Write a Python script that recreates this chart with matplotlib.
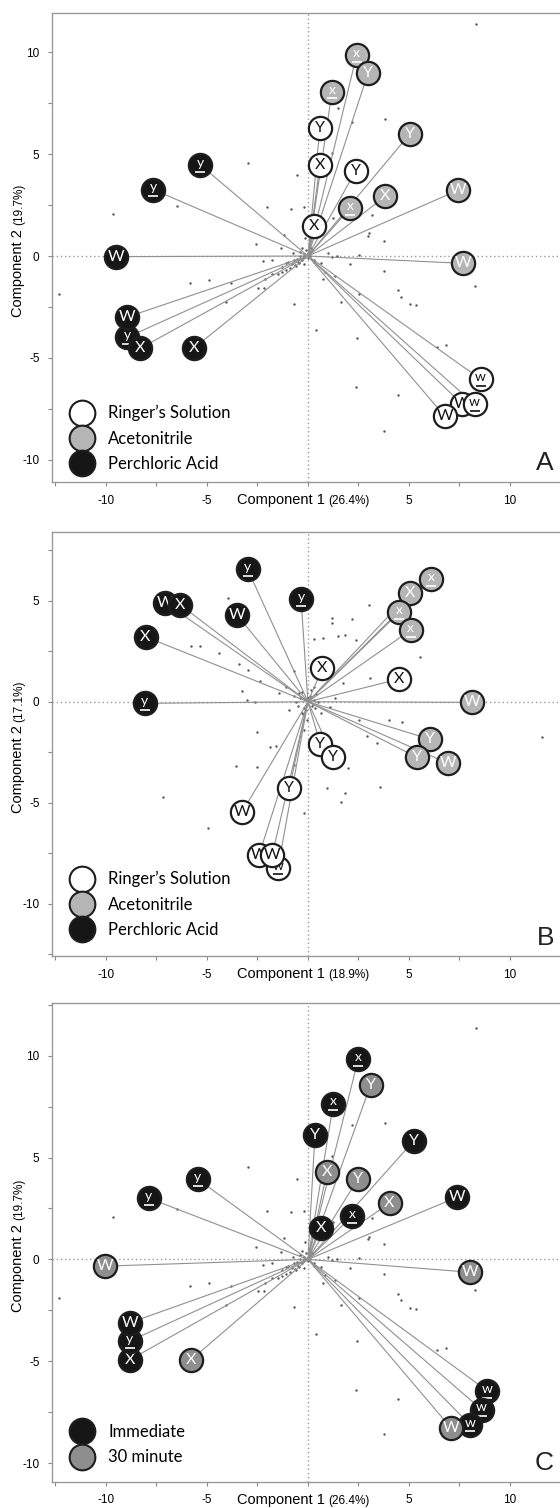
import numpy as np
import matplotlib.pyplot as plt
from matplotlib.lines import Line2D
from matplotlib.ticker import MultipleLocator, FuncFormatter
from matplotlib.transforms import offset_copy

plt.rcParams['axes.unicode_minus'] = False

# ---- panel A : sample scores, group R = Ringer's, A = acetonitrile, P = perchloric
a_x = [2.41, 2.98, 1.19, 5.03, 3.84, 2.09, 7.42, 7.68,
       0.59, 0.59, 2.36, 0.30, 8.55, 7.64, 8.25, 6.77,
       -5.32, -7.66, -9.49, -8.94, -8.94, -8.29, -5.65]
a_y = [9.84, 8.98, 8.06, 5.97, 2.93, 2.35, 3.22, -0.36,
       6.28, 4.46, 4.16, 1.48, -6.04, -7.27, -7.27, -7.85,
       4.46, 3.26, -0.03, -3.98, -2.99, -4.52, -4.52]
a_lab = ['x_', 'Y', 'x_', 'Y', 'X', 'x_', 'W', 'W',
         'Y', 'X', 'Y', 'X', 'w_', 'W', 'w_', 'W',
         'y_', 'y_', 'W', 'y_', 'W', 'X', 'X']
a_grp = ['A'] * 8 + ['R'] * 8 + ['P'] * 7

# ---- panel B
b_x = [-2.99, -0.34, -7.07, -6.31, -3.53, -8.04, -8.07,
       6.10, 5.05, 4.52, 5.09, 8.13, 6.02, 5.41, 6.94,
       0.72, 4.51, 0.62, 1.24, -0.92, -3.27, -2.42, -1.48, -1.77]
b_y = [6.57, 5.07, 4.90, 4.79, 4.32, 3.22, -0.08,
       6.07, 5.36, 4.42, 3.55, -0.03, -1.85, -2.76, -3.05,
       1.65, 1.12, -2.11, -2.72, -4.29, -5.48, -7.59, -8.22, -7.59]
b_lab = ['y_', 'y_', 'W', 'X', 'W', 'X', 'y_',
         'x_', 'X', 'x_', 'x_', 'W', 'Y', 'Y', 'W',
         'X', 'X', 'Y', 'Y', 'Y', 'W', 'W', 'w_', 'W']
b_grp = ['P'] * 7 + ['A'] * 8 + ['R'] * 9

# ---- panel C : I = immediate, M = 30 minute
c_x = [3.11, 0.95, 2.49, 4.04, -10.05, 8.02, -5.79,
       2.49, 1.26, 0.35, 5.25, 7.40, 2.18, 0.65, -5.46, -7.89,
       -8.82, -8.82, -8.82, 8.89, 8.60, 8.02, 7.09]
c_y = [8.58, 4.30, 3.97, 2.76, -0.33, -0.63, -4.93,
       9.82, 7.65, 6.13, 5.83, 3.06, 2.12, 1.52, 3.94, 3.01,
       -4.93, -4.01, -3.11, -6.46, -7.37, -8.11, -8.28]
c_lab = ['Y', 'X', 'Y', 'X', 'W', 'W', 'X',
         'x_', 'x_', 'Y', 'Y', 'W', 'x_', 'X', 'y_', 'y_',
         'X', 'y_', 'W', 'w_', 'w_', 'w_', 'W']
c_grp = ['M'] * 7 + ['I'] * 15 + ['M']

# ---- variable loadings (small dots), same PCA for A and C
load_ac_x = [8.33, -2.97, -9.63, -12.30, -6.46, -2.04, -0.82, -0.56, 1.50, 2.20,
             3.84, 1.19, 3.19, 2.97, 3.75, -2.57, -4.92, -5.85, -3.79, -2.48,
             -2.18, -4.05, -0.70, 1.62, 0.40, 2.41, 2.36, 3.75, 4.45, 4.45,
             4.62, 5.03, 5.34, 3.75, 8.25, 6.39, 6.86, 2.55, 1.36, 0.75,
             2.06, 2.55, 1.45, -1.17, -1.34, -1.78, -2.22, -1.26, -1.78, -2.13,
             -1.08, -0.73, -0.38, -0.21, 0.14, 0.31, 0.66, 0.84, 1.01, 1.19,
             -0.16, -0.21, 1.22, 2.62, 3.02,
             -0.50, -0.30, -0.20, 0.10, -0.60, -0.90, -1.10, -0.40, 0.00, 0.20,
             -0.10, -0.70, -1.30, -1.50, -0.20, 0.10, 0.30, -0.80, -1.00, -0.30,
             -0.55, -0.45, -0.15, 0.05, -0.65]
load_ac_y = [11.37, 4.54, 2.06, -1.88, 2.47, 2.38, 2.32, 3.96, 7.25, 6.58,
             6.71, 5.07, 2.02, 0.99, 0.74, 0.61, -1.18, -1.32, -1.32, -1.55,
             -1.55, -2.25, -2.34, -2.25, -3.65, -4.01, -6.40, -8.59, -6.83, -1.68,
             -2.01, -2.37, -2.42, -0.72, -1.48, -4.47, -4.34, -1.88, -0.99, -1.15,
             -0.41, 0.05, 0.00, 1.04, 0.38, -0.20, -0.25, -0.53, -0.89, -1.15,
             -0.36, 0.13, 0.21, -0.03, 0.38, -0.20, -0.36, -0.77, 0.13, -0.03,
             0.87, 2.40, 1.86, 2.43, 1.12,
             -0.30, -0.20, 0.10, 0.20, -0.50, -0.60, -0.70, 0.00, -0.10, 0.30,
             0.30, -0.20, -0.80, -0.90, -0.40, 0.00, -0.30, -0.40, -0.30, 0.40,
             -0.15, -0.35, -0.05, 0.12, -0.45]

load_b_x = [-3.98, 3.02, 1.17, 1.17, 2.17, 1.47, 1.82, 0.32, 0.76, 2.39,
            5.57, -5.78, -5.34, -4.40, -3.43, -2.95, -2.37, -3.27, -3.04, -2.60,
            -0.69, 1.73, 3.09, 4.03, 4.68, 2.92, 3.41, 2.53, -2.54, -1.86,
            -1.57, -3.57, -2.51, -0.69, 0.94, 1.86, 1.64, 3.59, 2.00, -0.21,
            -4.93, -7.19, 11.59, 0.67, 1.11, 1.34, 0.32, -0.30, -0.92, -1.10,
            -1.45, -0.04, -0.21,
            -0.40, -0.20, 0.10, 0.30, -0.60, -0.10, 0.20, 0.40, -0.30, 0.00,
            -0.50, 0.15, -0.25, 0.35, -0.70, 0.05, 0.25, -0.15, 0.50, -0.45]
load_b_y = [5.15, 4.77, 4.17, 3.88, 4.09, 3.25, 3.30, 3.09, 3.17, 3.05,
            2.23, 2.77, 2.77, 2.39, 1.85, 1.57, 1.02, 0.53, 0.08, 0.00,
            1.53, 0.94, 1.16, -0.91, -0.99, -1.70, -2.06, -0.91, -1.49, -2.26,
            -2.18, -3.17, -3.25, -3.14, -4.29, -4.50, -4.95, -4.24, -3.30, -5.53,
            -6.27, -4.70, -1.77, -0.58, -0.25, 0.21, 0.74, -0.58, -0.41, 0.74,
            0.41, -0.91, -1.40,
            0.20, -0.30, 0.30, 0.10, 0.00, -0.40, -0.20, 0.40, 0.50, 0.20,
            -0.20, 0.60, -0.60, -0.30, 0.30, 0.05, -0.10, 0.15, 0.00, 0.45]

fill = {'R': '#ffffff', 'A': '#b5b5b5', 'P': '#161616',
        'I': '#161616', 'M': '#8e8e8e'}
txtc = {'R': '#111111', 'A': '#ffffff', 'P': '#ffffff',
        'I': '#ffffff', 'M': '#ffffff'}
edge = '#1e1e1e'
fnt = ['Lato', 'DejaVu Sans']
axfnt = ['Liberation Sans', 'DejaVu Sans']

fig = plt.figure(figsize=(5.6, 15.08), dpi=100)


def panel(rect, xs, ys, labs, grps, lx, ly, ylim, pct1, pct2, letter,
          legend_items, leg_y):
    ax = fig.add_axes(rect)
    ax.set_xlim(-12.67, 12.48)
    ax.set_ylim(*ylim)
    ax.axhline(0, color='#9a9a9a', ls=(0, (1, 2)), lw=1, zorder=0)
    ax.axvline(0, color='#9a9a9a', ls=(0, (1, 2)), lw=1, zorder=0)
    ax.scatter(lx, ly, s=3, color='#555555', lw=0, zorder=1)
    for x, y in zip(xs, ys):
        ax.plot([0, x], [0, y], color='#909090', lw=0.8, zorder=1.5)
    up = offset_copy(ax.transData, fig=fig, y=1.5, units='points')
    dn = offset_copy(ax.transData, fig=fig, y=-4.8, units='points')
    for i, (x, y, s, g) in enumerate(zip(xs, ys, labs, grps)):
        z = 3 + i * 0.01
        ax.scatter([x], [y], s=280, facecolor=fill[g], edgecolor=edge,
                   linewidth=1.6, zorder=z)
        if s.endswith('_'):
            ax.text(x, y, s[0], transform=up, ha='center', va='center',
                    fontsize=10, color=txtc[g], family=fnt, zorder=z + 0.005)
            ax.plot([x], [y], marker='_', ms=6.5, mew=1.2, color=txtc[g],
                    transform=dn, zorder=z + 0.005)
        else:
            ax.text(x, y, s, ha='center', va='center', fontsize=11.5,
                    color=txtc[g], family=fnt, zorder=z + 0.005)

    for sp in ['left', 'bottom', 'top']:
        ax.spines[sp].set_color('#999999')
        ax.spines[sp].set_linewidth(1)
    ax.spines['right'].set_visible(False)
    ax.xaxis.set_major_locator(MultipleLocator(5))
    ax.xaxis.set_minor_locator(MultipleLocator(2.5))
    ax.yaxis.set_major_locator(MultipleLocator(5))
    ax.yaxis.set_minor_locator(MultipleLocator(2.5))
    ax.xaxis.set_major_formatter(
        FuncFormatter(lambda v, p: '' if abs(v) < 1e-9 else '%d' % v))
    ax.yaxis.set_major_formatter(FuncFormatter(lambda v, p: '%d' % v))
    ax.tick_params(which='both', direction='out', color='#888888',
                   length=3, width=0.8, labelsize=8.5, pad=6)
    for lb in ax.get_xticklabels() + ax.get_yticklabels():
        lb.set_family(axfnt)

    t = ax.annotate('Component 1', xy=(0.5, 0), xycoords='axes fraction',
                    xytext=(-50, -13), textcoords='offset points',
                    ha='left', va='center', fontsize=10.5, family=axfnt)
    ax.annotate(pct1, xy=(1, 0), xycoords=t, xytext=(2.5, 0),
                textcoords='offset points', ha='left', va='bottom',
                fontsize=8.5, family=axfnt)
    t2 = ax.annotate('Component 2', xy=(0, 0.5), xycoords='axes fraction',
                     xytext=(-24.5, -50), textcoords='offset points',
                     ha='center', va='bottom', rotation=90, fontsize=10.5,
                     family=axfnt)
    ax.annotate(pct2, xy=(1, 1), xycoords=t2, xytext=(0, 2.5),
                textcoords='offset points', ha='right', va='bottom',
                rotation=90, fontsize=8.5, family=axfnt)

    ax.text(0.988, 0.015, letter, transform=ax.transAxes, ha='right',
            va='bottom', fontsize=19, color='#222222', family=axfnt)

    handles = [Line2D([], [], ls='', marker='o', ms=18.5, mfc=fill[g],
                      mec=edge, mew=1.5) for g, _ in legend_items]
    ax.legend(handles, [n for _, n in legend_items], loc='lower left',
              bbox_to_anchor=(0.042, leg_y), frameon=False, borderpad=0,
              borderaxespad=0, handlelength=1.0, handletextpad=1.1,
              labelspacing=0.55, prop={'family': fnt, 'size': 12})
    return ax


H = 1508.0
W = 560.0
ax_l = 52 / W
ax_w = (W - 52) / W

solv = [('R', 'Ringer\u2019s Solution'), ('A', 'Acetonitrile'),
        ('P', 'Perchloric Acid')]
time = [('I', 'Immediate'), ('M', '30 minute')]

panel([ax_l, 1 - 482 / H, ax_w, (482 - 12.7) / H], a_x, a_y, a_lab, a_grp,
      load_ac_x, load_ac_y, (-11.08, 11.93), '(26.4%)', '(19.7%)', 'A',
      solv, 0.022)
panel([ax_l, 1 - 956 / H, ax_w, (956 - 531.7) / H], b_x, b_y, b_lab, b_grp,
      load_b_x, load_b_y, (-12.59, 8.42), '(18.9%)', '(17.1%)', 'B',
      solv, 0.043)
panel([ax_l, 1 - 1481.7 / H, ax_w, (1481.7 - 1002.9) / H], c_x, c_y, c_lab,
      c_grp, load_ac_x, load_ac_y, (-10.91, 12.59), '(26.4%)', '(19.7%)', 'C',
      time, 0.034)

fig.savefig('out.png', dpi=100)
